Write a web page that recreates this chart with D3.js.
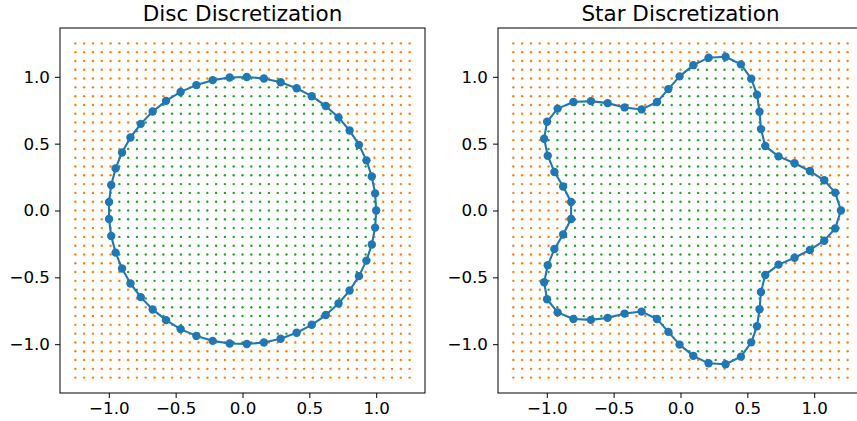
<!DOCTYPE html>
<html>
<head>
<meta charset="utf-8">
<script src="https://cdn.jsdelivr.net/npm/d3@7"></script>
<style>
  body { margin: 0; background: #fff; }
  svg { display: block; }
  text { font-family: "DejaVu Sans", sans-serif; }
</style>
</head>
<body>
<svg id="chart" width="857" height="421"></svg>
<script>
// Sample lattice coordinates (same for x and y)
const gridValues = [-1.25, -1.1842, -1.1184, -1.0526, -0.9868, -0.9211, -0.8553, -0.7895, -0.7237, -0.6579,
  -0.5921, -0.5263, -0.4605, -0.3947, -0.3289, -0.2632, -0.1974, -0.1316, -0.0658, 0,
  0.0658, 0.1316, 0.1974, 0.2632, 0.3289, 0.3947, 0.4605, 0.5263, 0.5921, 0.6579,
  0.7237, 0.7895, 0.8553, 0.9211, 0.9868, 1.0526, 1.1184, 1.1842, 1.25];

// Disc boundary nodes
const discX = [1.000, 0.992, 0.967, 0.927, 0.871, 0.801, 0.718, 0.623, 0.518, 0.405, 0.285, 0.160, 0.032,
  -0.096, -0.223, -0.345, -0.463, -0.572, -0.672, -0.761, -0.838, -0.901, -0.949, -0.982, -0.998,
  -0.998, -0.982, -0.949, -0.901, -0.838, -0.761, -0.672, -0.572, -0.463, -0.345, -0.223, -0.096,
  0.032, 0.160, 0.285, 0.405, 0.518, 0.623, 0.718, 0.801, 0.871, 0.927, 0.967, 0.992];
const discY = [0.000, 0.128, 0.254, 0.375, 0.491, 0.598, 0.696, 0.782, 0.855, 0.914, 0.959, 0.987, 0.999,
  0.995, 0.975, 0.938, 0.887, 0.820, 0.740, 0.648, 0.546, 0.434, 0.315, 0.191, 0.064,
  -0.064, -0.191, -0.315, -0.434, -0.546, -0.648, -0.740, -0.820, -0.887, -0.938, -0.975, -0.995,
  -0.999, -0.987, -0.959, -0.914, -0.855, -0.782, -0.696, -0.598, -0.491, -0.375, -0.254, -0.128];

// Star boundary nodes
const starX = [1.200, 1.157, 1.075, 0.968, 0.853, 0.733, 0.634, 0.602, 0.591, 0.572, 0.529, 0.452, 0.337,
  0.210, 0.096, -0.007, -0.091, -0.176, -0.291, -0.418, -0.545, -0.670, -0.801, -0.919, -0.998,
  -1.020, -0.993, -0.943, -0.878, -0.818,
  -0.818, -0.878, -0.943, -0.993, -1.020, -0.998, -0.919, -0.801, -0.670, -0.545, -0.418, -0.291,
  -0.176, -0.091, -0.007, 0.096, 0.210, 0.337, 0.452, 0.529, 0.572, 0.591, 0.602, 0.634, 0.733,
  0.853, 0.968, 1.075, 1.157];
const starY = [0.000, 0.134, 0.226, 0.295, 0.353, 0.405, 0.482, 0.609, 0.739, 0.866, 0.986, 1.093, 1.150,
  1.143, 1.087, 1.003, 0.908, 0.811, 0.756, 0.771, 0.803, 0.818, 0.811, 0.762, 0.664,
  0.537, 0.410, 0.288, 0.179, 0.064,
  -0.064, -0.179, -0.288, -0.410, -0.537, -0.664, -0.762, -0.811, -0.818, -0.803, -0.771, -0.756,
  -0.811, -0.908, -1.003, -1.087, -1.143, -1.150, -1.093, -0.986, -0.866, -0.739, -0.609, -0.482, -0.405,
  -0.353, -0.295, -0.226, -0.134];

const xTicks = [-1.0, -0.5, 0.0, 0.5, 1.0];
const yTicks = [-1.0, -0.5, 0.0, 0.5, 1.0];
const titles = ["Disc Discretization", "Star Discretization"];

const panels = [
  { title: titles[0], xs: discX, ys: discY, left: 60 },
  { title: titles[1], xs: starX, ys: starY, left: 498 }
];

const C0 = "#1f77b4", C1 = "#ff7f0e", C2 = "#2ca02c";
const plotTop = 28, plotSize = 365, lim = 1.365;
const svg = d3.select("#chart");
const fmt = d3.format(".1f");

panels.forEach(p => {
  const x = d3.scaleLinear().domain([-lim, lim]).range([p.left, p.left + plotSize]);
  const y = d3.scaleLinear().domain([-lim, lim]).range([plotTop + plotSize, plotTop]);
  const g = svg.append("g");

  const poly = p.xs.map((v, i) => [v, p.ys[i]]);

  // lattice points, coloured by whether they fall inside the boundary
  const pts = [];
  gridValues.forEach(gx => gridValues.forEach(gy => {
    pts.push({ gx, gy, inside: d3.polygonContains(poly, [gx, gy]) });
  }));
  g.append("g").selectAll("circle").data(pts).join("circle")
    .attr("cx", d => x(d.gx)).attr("cy", d => y(d.gy)).attr("r", 1.2)
    .attr("fill", d => d.inside ? C2 : C1);

  // closed boundary with nodes
  const line = d3.line().x(d => x(d[0])).y(d => y(d[1])).curve(d3.curveLinearClosed);
  g.append("path").attr("d", line(poly))
    .attr("fill", "none").attr("stroke", C0).attr("stroke-width", 2.1).attr("stroke-linejoin", "round");
  g.append("g").selectAll("circle").data(poly).join("circle")
    .attr("cx", d => x(d[0])).attr("cy", d => y(d[1])).attr("r", 4.2).attr("fill", C0);

  // axes
  const ax = g.append("g").attr("transform", `translate(0,${plotTop + plotSize})`)
    .call(d3.axisBottom(x).tickValues(xTicks).tickFormat(fmt).tickSize(5).tickPadding(4));
  const ay = g.append("g").attr("transform", `translate(${p.left},0)`)
    .call(d3.axisLeft(y).tickValues(yTicks).tickFormat(fmt).tickSize(5).tickPadding(5));
  [ax, ay].forEach(a => {
    a.select(".domain").remove();
    a.selectAll(".tick line").attr("stroke", "#000").attr("stroke-width", 1);
    a.selectAll(".tick text").attr("fill", "#000").style("font-size", "16.7px")
      .style("font-family", "'DejaVu Sans', sans-serif");
  });

  // frame
  g.append("rect").attr("x", p.left).attr("y", plotTop).attr("width", plotSize).attr("height", plotSize)
    .attr("fill", "none").attr("stroke", "#000").attr("stroke-width", 1);

  // title
  g.append("text").attr("x", p.left + plotSize / 2).attr("y", 21).attr("text-anchor", "middle")
    .style("font-size", "21.5px").attr("fill", "#000").text(p.title);
});
</script>
</body>
</html>
